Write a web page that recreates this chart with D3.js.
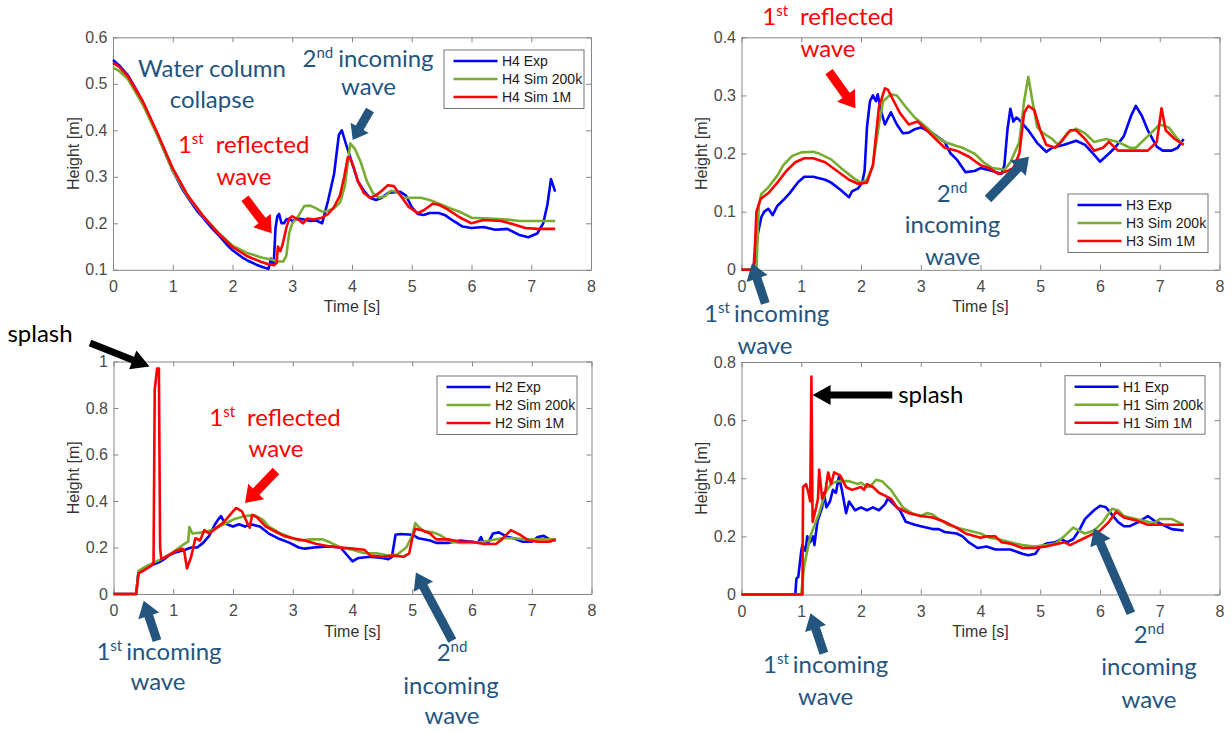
<!DOCTYPE html>
<html>
<head>
<meta charset="utf-8">
<script src="https://cdn.jsdelivr.net/npm/d3@7"></script>
<style>
body { margin: 0; background: #fff; }
svg text { font-family: "Liberation Sans", Arial, sans-serif; }
.axis path, .axis line { stroke: #868686; }
.axis text { fill: #4a4a4a; font-size: 16px; font-family: "Liberation Sans", Arial, sans-serif; }
.ann { font-family: Lato, "Open Sans", sans-serif; font-size: 24px; }
</style>
</head>
<body>
<svg id="main_svg"></svg>
<script>
const PLOT_W = 478;
const PLOT_H = 232.5;

const TIME_TICKS = [0, 1, 2, 3, 4, 5, 6, 7, 8];
const SERIES_COLORS = ['#0000ff', '#77ac30', '#ff0000'];

// H4
const h4Labels = ['H4 Exp', 'H4 Sim 200k', 'H4 Sim 1M'];
const h4Ticks = [0.1, 0.2, 0.3, 0.4, 0.5, 0.6];
const h4Exp = [[0,0.551],[0.1,0.54],[0.25,0.518],[0.4,0.485],[0.5,0.46],[0.65,0.418],[0.75,0.389],[0.9,0.343],[1.0,0.313],[1.15,0.276],[1.25,0.256],[1.4,0.228],[1.5,0.213],[1.65,0.19],[1.75,0.177],[1.9,0.155],[2.0,0.142],[2.15,0.128],[2.25,0.12],[2.4,0.111],[2.5,0.106],[2.6,0.102],[2.62,0.11],[2.64,0.124],[2.66,0.112],[2.69,0.112],[2.72,0.19],[2.75,0.215],[2.78,0.22],[2.82,0.2],[2.86,0.2],[2.9,0.208],[2.95,0.21],[3.0,0.205],[3.1,0.21],[3.2,0.208],[3.3,0.205],[3.4,0.206],[3.5,0.2],[3.6,0.249],[3.7,0.306],[3.78,0.39],[3.83,0.4],[3.9,0.37],[4.0,0.33],[4.1,0.29],[4.2,0.27],[4.3,0.255],[4.4,0.25],[4.5,0.255],[4.6,0.265],[4.8,0.268],[4.9,0.26],[5.0,0.235],[5.1,0.22],[5.2,0.218],[5.3,0.222],[5.45,0.222],[5.55,0.218],[5.7,0.205],[5.85,0.193],[6.0,0.19],[6.2,0.192],[6.4,0.186],[6.6,0.188],[6.8,0.175],[6.95,0.17],[7.1,0.178],[7.2,0.2],[7.27,0.24],[7.33,0.295],[7.37,0.28],[7.4,0.268]];
const h4Sim200k = [[0,0.535],[0.1,0.528],[0.25,0.51],[0.5,0.455],[0.75,0.387],[1.0,0.313],[1.25,0.258],[1.5,0.216],[1.75,0.182],[2.0,0.152],[2.25,0.136],[2.5,0.126],[2.65,0.122],[2.75,0.118],[2.85,0.118],[2.9,0.13],[2.95,0.18],[3.0,0.2],[3.1,0.215],[3.2,0.237],[3.3,0.238],[3.4,0.232],[3.5,0.225],[3.6,0.227],[3.7,0.232],[3.8,0.245],[3.88,0.28],[3.95,0.35],[3.97,0.372],[4.05,0.36],[4.15,0.33],[4.25,0.29],[4.35,0.265],[4.45,0.255],[4.55,0.258],[4.65,0.27],[4.75,0.268],[4.85,0.255],[5.0,0.255],[5.15,0.255],[5.3,0.25],[5.5,0.24],[5.65,0.232],[5.8,0.225],[6.0,0.212],[6.3,0.21],[6.6,0.208],[6.8,0.205],[7.1,0.205],[7.4,0.205]];
const h4Sim1M = [[0,0.545],[0.1,0.537],[0.25,0.516],[0.5,0.462],[0.75,0.392],[1.0,0.318],[1.25,0.26],[1.5,0.217],[1.75,0.18],[2.0,0.149],[2.25,0.129],[2.5,0.116],[2.6,0.112],[2.7,0.11],[2.74,0.115],[2.76,0.15],[2.8,0.14],[2.84,0.155],[2.9,0.19],[2.95,0.21],[3.0,0.215],[3.1,0.208],[3.18,0.2],[3.25,0.21],[3.35,0.208],[3.5,0.212],[3.6,0.22],[3.7,0.235],[3.8,0.26],[3.87,0.3],[3.93,0.342],[3.97,0.34],[4.03,0.32],[4.1,0.29],[4.2,0.265],[4.3,0.255],[4.4,0.26],[4.5,0.27],[4.6,0.282],[4.7,0.28],[4.8,0.262],[4.95,0.235],[5.1,0.222],[5.2,0.228],[5.35,0.242],[5.45,0.24],[5.6,0.23],[5.8,0.213],[6.0,0.2],[6.2,0.207],[6.5,0.205],[6.7,0.198],[6.9,0.19],[7.1,0.188],[7.4,0.188]];

// H3
const h3Labels = ['H3 Exp', 'H3 Sim 200k', 'H3 Sim 1M'];
const h3Ticks = [0, 0.1, 0.2, 0.3, 0.4];
const h3Exp = [[0,0],[0.2,0],[0.23,0.02],[0.27,0.06],[0.33,0.09],[0.38,0.1],[0.45,0.105],[0.52,0.094],[0.6,0.11],[0.7,0.12],[0.8,0.131],[0.95,0.151],[1.05,0.16],[1.2,0.16],[1.4,0.155],[1.5,0.15],[1.65,0.138],[1.8,0.125],[1.85,0.135],[1.95,0.14],[2.02,0.15],[2.06,0.17],[2.1,0.245],[2.15,0.29],[2.2,0.3],[2.25,0.29],[2.28,0.302],[2.33,0.275],[2.4,0.25],[2.5,0.271],[2.6,0.25],[2.7,0.235],[2.8,0.236],[2.9,0.242],[3.0,0.245],[3.2,0.235],[3.4,0.22],[3.5,0.2],[3.6,0.19],[3.75,0.168],[3.9,0.17],[4.0,0.175],[4.2,0.17],[4.35,0.165],[4.4,0.18],[4.45,0.24],[4.5,0.277],[4.55,0.255],[4.6,0.262],[4.65,0.258],[4.8,0.24],[4.95,0.218],[5.1,0.203],[5.2,0.21],[5.4,0.215],[5.6,0.222],[5.75,0.215],[5.9,0.198],[6.0,0.186],[6.15,0.2],[6.25,0.21],[6.4,0.23],[6.52,0.265],[6.6,0.282],[6.7,0.265],[6.8,0.24],[6.95,0.212],[7.05,0.205],[7.2,0.205],[7.3,0.21],[7.4,0.225]];
const h3Sim200k = [[0,0],[0.25,0],[0.27,0.06],[0.29,0.11],[0.33,0.13],[0.45,0.142],[0.6,0.162],[0.7,0.18],[0.85,0.196],[1.0,0.202],[1.2,0.203],[1.3,0.2],[1.5,0.19],[1.7,0.172],[1.9,0.156],[2.0,0.15],[2.1,0.155],[2.2,0.18],[2.3,0.25],[2.37,0.29],[2.5,0.302],[2.6,0.3],[2.75,0.28],[2.9,0.262],[3.1,0.245],[3.25,0.23],[3.4,0.22],[3.6,0.213],[3.7,0.21],[3.9,0.2],[4.05,0.185],[4.2,0.175],[4.4,0.172],[4.5,0.185],[4.65,0.22],[4.73,0.29],[4.8,0.332],[4.87,0.29],[4.95,0.245],[5.05,0.235],[5.2,0.225],[5.3,0.215],[5.45,0.235],[5.6,0.243],[5.75,0.235],[5.9,0.22],[6.1,0.225],[6.3,0.22],[6.5,0.21],[6.6,0.21],[6.8,0.23],[7.0,0.25],[7.15,0.245],[7.3,0.225],[7.4,0.215]];
const h3Sim1M = [[0,0],[0.2,0],[0.23,0.05],[0.25,0.1],[0.32,0.122],[0.45,0.132],[0.6,0.15],[0.75,0.17],[0.9,0.185],[1.05,0.192],[1.2,0.192],[1.4,0.185],[1.6,0.17],[1.8,0.155],[1.95,0.148],[2.1,0.15],[2.2,0.18],[2.3,0.28],[2.4,0.312],[2.45,0.31],[2.55,0.29],[2.65,0.27],[2.8,0.25],[2.95,0.255],[3.1,0.24],[3.25,0.225],[3.4,0.21],[3.6,0.205],[3.8,0.195],[4.0,0.18],[4.15,0.175],[4.3,0.165],[4.45,0.17],[4.55,0.175],[4.65,0.2],[4.73,0.27],[4.8,0.282],[4.9,0.275],[5.0,0.24],[5.1,0.215],[5.25,0.21],[5.35,0.22],[5.5,0.24],[5.6,0.24],[5.75,0.225],[5.9,0.205],[6.05,0.21],[6.15,0.22],[6.3,0.205],[6.5,0.205],[6.8,0.205],[6.95,0.22],[7.03,0.278],[7.1,0.24],[7.25,0.225],[7.4,0.215]];

// H2
const h2Labels = ['H2 Exp', 'H2 Sim 200k', 'H2 Sim 1M'];
const h2Ticks = [0, 0.2, 0.4, 0.6, 0.8, 1];
const h2Exp = [[0,0],[0.38,0],[0.41,0.08],[0.45,0.1],[0.5,0.11],[0.6,0.12],[0.75,0.135],[0.85,0.15],[0.95,0.17],[1.05,0.18],[1.2,0.19],[1.3,0.2],[1.4,0.2],[1.5,0.22],[1.6,0.25],[1.7,0.3],[1.75,0.32],[1.8,0.335],[1.85,0.31],[1.9,0.3],[2.0,0.29],[2.1,0.3],[2.2,0.29],[2.3,0.3],[2.45,0.29],[2.6,0.26],[2.75,0.24],[2.95,0.22],[3.1,0.2],[3.2,0.195],[3.35,0.2],[3.6,0.205],[3.8,0.2],[3.9,0.17],[4.0,0.14],[4.1,0.155],[4.3,0.16],[4.5,0.155],[4.6,0.15],[4.66,0.16],[4.72,0.255],[4.8,0.258],[5.0,0.255],[5.1,0.24],[5.3,0.23],[5.4,0.22],[5.6,0.22],[5.8,0.23],[6.0,0.225],[6.1,0.22],[6.15,0.245],[6.2,0.215],[6.27,0.22],[6.35,0.26],[6.45,0.265],[6.6,0.245],[6.7,0.24],[6.85,0.225],[7.0,0.225],[7.1,0.245],[7.2,0.25],[7.3,0.235],[7.4,0.23]];
const h2Sim200k = [[0,0],[0.38,0],[0.42,0.1],[0.55,0.12],[0.8,0.15],[1.0,0.18],[1.1,0.2],[1.2,0.218],[1.25,0.225],[1.27,0.288],[1.32,0.26],[1.5,0.265],[1.7,0.28],[1.85,0.3],[2.0,0.32],[2.2,0.335],[2.35,0.34],[2.5,0.32],[2.6,0.29],[2.8,0.26],[3.0,0.24],[3.1,0.23],[3.3,0.235],[3.5,0.235],[3.6,0.225],[3.8,0.2],[4.0,0.19],[4.2,0.175],[4.4,0.175],[4.6,0.165],[4.75,0.17],[4.9,0.2],[5.0,0.25],[5.05,0.305],[5.1,0.29],[5.2,0.27],[5.35,0.265],[5.45,0.255],[5.55,0.24],[5.65,0.225],[5.8,0.22],[6.0,0.22],[6.2,0.225],[6.3,0.23],[6.5,0.24],[6.7,0.24],[6.9,0.235],[7.2,0.235],[7.4,0.235]];
const h2Sim1M = [[0,0],[0.38,0],[0.42,0.09],[0.5,0.1],[0.62,0.12],[0.67,0.13],[0.69,0.88],[0.73,0.97],[0.76,0.97],[0.78,0.2],[0.8,0.15],[0.95,0.17],[1.05,0.185],[1.15,0.195],[1.18,0.19],[1.23,0.11],[1.3,0.16],[1.37,0.24],[1.45,0.23],[1.52,0.275],[1.6,0.26],[1.7,0.28],[1.85,0.31],[1.95,0.34],[2.05,0.37],[2.15,0.355],[2.25,0.3],[2.28,0.285],[2.32,0.34],[2.4,0.33],[2.55,0.29],[2.7,0.27],[2.85,0.25],[3.0,0.24],[3.2,0.23],[3.4,0.215],[3.6,0.205],[3.8,0.2],[4.0,0.195],[4.2,0.19],[4.3,0.165],[4.5,0.16],[4.7,0.165],[4.85,0.16],[4.95,0.175],[5.0,0.24],[5.05,0.28],[5.15,0.275],[5.3,0.26],[5.4,0.235],[5.6,0.235],[5.8,0.225],[6.0,0.225],[6.2,0.215],[6.4,0.215],[6.5,0.235],[6.65,0.275],[6.8,0.255],[6.95,0.23],[7.1,0.225],[7.3,0.225],[7.4,0.235]];

// H1
const h1Labels = ['H1 Exp', 'H1 Sim 200k', 'H1 Sim 1M'];
const h1Ticks = [0, 0.2, 0.4, 0.6, 0.8];
const h1Exp = [[0,0],[0.9,0],[0.92,0.055],[0.95,0.06],[1.0,0.15],[1.02,0.17],[1.07,0.15],[1.1,0.2],[1.15,0.18],[1.2,0.2],[1.22,0.17],[1.27,0.25],[1.35,0.3],[1.38,0.35],[1.42,0.3],[1.48,0.32],[1.53,0.36],[1.58,0.35],[1.63,0.405],[1.68,0.36],[1.75,0.28],[1.8,0.32],[1.9,0.29],[2.0,0.3],[2.1,0.29],[2.2,0.3],[2.3,0.29],[2.4,0.31],[2.45,0.33],[2.55,0.31],[2.65,0.29],[2.75,0.25],[2.9,0.24],[3.0,0.235],[3.2,0.225],[3.3,0.225],[3.4,0.215],[3.6,0.21],[3.7,0.2],[3.8,0.18],[3.95,0.16],[4.1,0.165],[4.25,0.155],[4.5,0.155],[4.7,0.14],[4.8,0.135],[4.92,0.14],[5.0,0.165],[5.1,0.175],[5.25,0.18],[5.35,0.19],[5.45,0.18],[5.55,0.19],[5.65,0.22],[5.75,0.26],[5.9,0.29],[6.0,0.305],[6.1,0.3],[6.2,0.275],[6.3,0.25],[6.4,0.235],[6.5,0.235],[6.65,0.25],[6.8,0.27],[6.9,0.255],[7.05,0.24],[7.2,0.225],[7.4,0.22]];
const h1Sim200k = [[0,0],[1.0,0],[1.05,0.1],[1.15,0.2],[1.3,0.28],[1.4,0.35],[1.5,0.38],[1.6,0.39],[1.8,0.39],[1.95,0.38],[2.0,0.385],[2.1,0.37],[2.15,0.37],[2.25,0.395],[2.35,0.39],[2.5,0.36],[2.6,0.33],[2.7,0.3],[2.85,0.28],[3.0,0.27],[3.1,0.28],[3.2,0.275],[3.3,0.26],[3.45,0.24],[3.6,0.23],[3.8,0.22],[4.0,0.21],[4.15,0.195],[4.3,0.19],[4.5,0.18],[4.7,0.17],[4.9,0.165],[5.1,0.17],[5.25,0.175],[5.4,0.2],[5.55,0.23],[5.65,0.22],[5.75,0.21],[5.9,0.22],[6.05,0.25],[6.2,0.295],[6.3,0.29],[6.4,0.27],[6.6,0.26],[6.8,0.25],[6.9,0.245],[7.0,0.26],[7.2,0.26],[7.3,0.25],[7.4,0.24]];
const h1Sim1M = [[0,0],[1.02,0],[1.03,0.37],[1.08,0.38],[1.12,0.35],[1.15,0.32],[1.17,0.75],[1.19,0.25],[1.25,0.3],[1.28,0.33],[1.3,0.43],[1.35,0.33],[1.4,0.35],[1.45,0.42],[1.5,0.38],[1.55,0.42],[1.65,0.41],[1.75,0.37],[1.85,0.36],[2.0,0.37],[2.05,0.36],[2.1,0.38],[2.2,0.37],[2.3,0.35],[2.4,0.34],[2.5,0.33],[2.6,0.3],[2.7,0.29],[2.8,0.28],[3.0,0.27],[3.2,0.265],[3.4,0.25],[3.6,0.23],[3.75,0.21],[4.0,0.195],[4.1,0.2],[4.25,0.2],[4.35,0.18],[4.5,0.175],[4.7,0.16],[4.9,0.16],[5.1,0.165],[5.2,0.17],[5.3,0.175],[5.4,0.18],[5.5,0.17],[5.6,0.18],[5.7,0.19],[5.85,0.205],[6.0,0.22],[6.15,0.25],[6.27,0.285],[6.4,0.265],[6.6,0.255],[6.8,0.24],[7.0,0.24],[7.2,0.24],[7.3,0.24],[7.4,0.24]];

const ANN_BLUE = '#24557f';
const ANN_RED = '#ff0000';

const fmt_y = d => String(+d.toFixed(1));

const plot_panel = (svg, left, top, yDomain, yTicks, series, labels, legendPos) => {
	const g = svg.append('g').attr('transform', `translate(${left},${top})`);

	const x = d3.scaleLinear().domain([0, 8]).range([0, PLOT_W]);
	const y = d3.scaleLinear().domain(yDomain).range([PLOT_H, 0]);

	g.append('g')
		.attr('class', 'axis')
		.attr('transform', `translate(0,${PLOT_H})`)
		.call(d3.axisBottom(x).tickValues(TIME_TICKS).tickSize(-5).tickSizeOuter(0).tickPadding(11).tickFormat(d3.format('d')));
	g.append('g')
		.attr('class', 'axis')
		.call(d3.axisTop(x).tickValues(TIME_TICKS).tickSize(-5).tickSizeOuter(0).tickFormat(''));
	g.append('g')
		.attr('class', 'axis')
		.call(d3.axisLeft(y).tickValues(yTicks).tickSize(-5).tickSizeOuter(0).tickPadding(5.5).tickFormat(fmt_y));
	g.append('g')
		.attr('class', 'axis')
		.attr('transform', `translate(${PLOT_W},0)`)
		.call(d3.axisRight(y).tickValues(yTicks).tickSize(-5).tickSizeOuter(0).tickFormat(''));

	g.append('text')
		.attr('x', PLOT_W / 2)
		.attr('y', PLOT_H + 37)
		.attr('text-anchor', 'middle')
		.attr('dominant-baseline', 'central')
		.attr('font-size', '16px')
		.attr('fill', '#333')
		.text('Time [s]');

	g.append('text')
		.attr('transform', `translate(-40,${PLOT_H / 2}) rotate(-90)`)
		.attr('text-anchor', 'middle')
		.attr('dominant-baseline', 'central')
		.attr('font-size', '16px')
		.attr('fill', '#333')
		.text('Height [m]');

	const line = d3.line()
		.x(d => x(d[0]))
		.y(d => y(d[1]));

	series.forEach((s, i) => {
		g.append('path')
			.datum(s)
			.attr('fill', 'none')
			.attr('stroke', SERIES_COLORS[i])
			.attr('stroke-width', 2.6)
			.attr('stroke-linejoin', 'round')
			.attr('d', line);
	});

	// legend
	const lg = g.append('g').attr('transform', `translate(${legendPos[0]},${legendPos[1]})`);
	lg.append('rect')
		.attr('width', 140)
		.attr('height', 58.5)
		.attr('fill', '#fff')
		.attr('stroke', '#747474')
		.attr('stroke-width', 1);
	labels.forEach((lab, i) => {
		const ry = 11 + i * 18;
		lg.append('line')
			.attr('x1', 9.5).attr('x2', 53.5)
			.attr('y1', ry).attr('y2', ry)
			.attr('stroke', SERIES_COLORS[i])
			.attr('stroke-width', 2.6);
		lg.append('text')
			.attr('x', 58)
			.attr('y', ry)
			.attr('dominant-baseline', 'central')
			.attr('font-size', '14px')
			.attr('fill', '#1a1a1a')
			.text(lab);
	});
};

// text with optional superscript parts
const ann_text = (svg, x, y, parts, color) => {
	const t = svg.append('text')
		.attr('class', 'ann')
		.attr('x', x)
		.attr('y', y)
		.attr('text-anchor', 'middle')
		.attr('fill', color);
	let raised = false;
	parts.forEach(p => {
		const sp = t.append('tspan').text(p.t);
		if (p.sup) {
			sp.attr('font-size', '15px').attr('dy', -9);
			raised = true;
		} else if (raised) {
			sp.attr('dy', 9);
			raised = false;
		}
		if (p.dx) sp.attr('dx', p.dx);
	});
};

const block_arrow = (svg, x1, y1, x2, y2, color, shaft, headW, headL) => {
	const len = Math.hypot(x2 - x1, y2 - y1);
	const ux = (x2 - x1) / len, uy = (y2 - y1) / len;
	const nx = -uy, ny = ux;
	const bx = x2 - ux * headL, by = y2 - uy * headL;
	const pts = [
		[x1 + nx * shaft / 2, y1 + ny * shaft / 2],
		[bx + nx * shaft / 2, by + ny * shaft / 2],
		[bx + nx * headW / 2, by + ny * headW / 2],
		[x2, y2],
		[bx - nx * headW / 2, by - ny * headW / 2],
		[bx - nx * shaft / 2, by - ny * shaft / 2],
		[x1 - nx * shaft / 2, y1 - ny * shaft / 2]
	];
	svg.append('polygon')
		.attr('points', pts.map(p => p.join(',')).join(' '))
		.attr('fill', color);
};

const init = () => {
	const svg = d3.select('#main_svg').attr('width', 1232).attr('height', 733);
	svg.append('rect').attr('width', 1232).attr('height', 733).attr('fill', '#fff');

	plot_panel(svg, 113, 37.3, [0.1, 0.6], h4Ticks, [h4Exp, h4Sim200k, h4Sim1M], h4Labels, [331, 12.7]);
	plot_panel(svg, 741.5, 37.3, [0, 0.4], h3Ticks, [h3Exp, h3Sim200k, h3Sim1M], h3Labels, [326.5, 156.7]);
	plot_panel(svg, 113.5, 361.5, [0, 1], h2Ticks, [h2Exp, h2Sim200k, h2Sim1M], h2Labels, [323.5, 14.5]);
	plot_panel(svg, 741.5, 362, [0, 0.8], h1Ticks, [h1Exp, h1Sim200k, h1Sim1M], h1Labels, [323.5, 13.7]);

	// top-left annotations
	ann_text(svg, 212, 77, [{t: 'Water column'}], ANN_BLUE);
	ann_text(svg, 212, 108, [{t: 'collapse'}], ANN_BLUE);
	ann_text(svg, 368, 66.7, [{t: '2'}, {t: 'nd', sup: true}, {t: 'incoming', dx: 5}], ANN_BLUE);
	ann_text(svg, 368.5, 95, [{t: 'wave'}], ANN_BLUE);
	block_arrow(svg, 370, 110, 352.7, 140, ANN_BLUE, 9, 21, 14);
	ann_text(svg, 243.7, 152.7, [{t: '1'}, {t: 'st', sup: true}, {t: 'reflected', dx: 12}], ANN_RED);
	ann_text(svg, 244, 185, [{t: 'wave'}], ANN_RED);
	block_arrow(svg, 245, 198.3, 271.7, 233.3, ANN_RED, 9, 22, 16);

	// top-right annotations
	ann_text(svg, 828, 25, [{t: '1'}, {t: 'st', sup: true}, {t: 'reflected', dx: 12}], ANN_RED);
	ann_text(svg, 828, 56.7, [{t: 'wave'}], ANN_RED);
	block_arrow(svg, 829, 71.7, 855.4, 108.3, ANN_RED, 9, 22, 16);
	ann_text(svg, 952, 201.7, [{t: '2'}, {t: 'nd', sup: true}], ANN_BLUE);
	ann_text(svg, 952.5, 233.3, [{t: 'incoming'}], ANN_BLUE);
	ann_text(svg, 952.6, 265, [{t: 'wave'}], ANN_BLUE);
	block_arrow(svg, 988, 199, 1029, 156.7, ANN_BLUE, 9, 22, 16);
	ann_text(svg, 766.7, 321.7, [{t: '1'}, {t: 'st', sup: true}, {t: 'incoming', dx: 4}], ANN_BLUE);
	ann_text(svg, 765, 354, [{t: 'wave'}], ANN_BLUE);
	block_arrow(svg, 765.3, 303.3, 752, 263.3, ANN_BLUE, 9, 22, 16);

	// bottom-left annotations
	ann_text(svg, 40, 341.6, [{t: 'splash'}], '#000');
	block_arrow(svg, 90, 343, 149.5, 366.5, '#000', 7, 20, 18);
	ann_text(svg, 275, 425.6, [{t: '1'}, {t: 'st', sup: true}, {t: 'reflected', dx: 12}], ANN_RED);
	ann_text(svg, 276, 457, [{t: 'wave'}], ANN_RED);
	block_arrow(svg, 276, 471, 245, 503, ANN_RED, 9, 22, 16);
	ann_text(svg, 159, 659.5, [{t: '1'}, {t: 'st', sup: true}, {t: 'incoming', dx: 4}], ANN_BLUE);
	ann_text(svg, 158, 690.4, [{t: 'wave'}], ANN_BLUE);
	block_arrow(svg, 157, 640.6, 143.7, 600.7, ANN_BLUE, 9, 22, 16);
	ann_text(svg, 452, 660.5, [{t: '2'}, {t: 'nd', sup: true}], ANN_BLUE);
	ann_text(svg, 451, 693.8, [{t: 'incoming'}], ANN_BLUE);
	ann_text(svg, 452, 723.6, [{t: 'wave'}], ANN_BLUE);
	block_arrow(svg, 452.3, 640.6, 415.9, 572.5, ANN_BLUE, 9, 22, 16);

	// bottom-right annotations
	ann_text(svg, 930.8, 403.3, [{t: 'splash'}], '#000');
	block_arrow(svg, 892.3, 395, 812.6, 395, '#000', 7, 20, 18);
	ann_text(svg, 825.6, 673.3, [{t: '1'}, {t: 'st', sup: true}, {t: 'incoming', dx: 4}], ANN_BLUE);
	ann_text(svg, 825.6, 705, [{t: 'wave'}], ANN_BLUE);
	block_arrow(svg, 823.9, 653.3, 810.5, 613.3, ANN_BLUE, 9, 22, 16);
	ann_text(svg, 1149, 643.3, [{t: '2'}, {t: 'nd', sup: true}], ANN_BLUE);
	ann_text(svg, 1149, 675, [{t: 'incoming'}], ANN_BLUE);
	ann_text(svg, 1149, 708.3, [{t: 'wave'}], ANN_BLUE);
	block_arrow(svg, 1130.9, 613.3, 1094, 528.3, ANN_BLUE, 9, 22, 16);
};

window.onload = () => {
	init();
};
</script>
</body>
</html>
